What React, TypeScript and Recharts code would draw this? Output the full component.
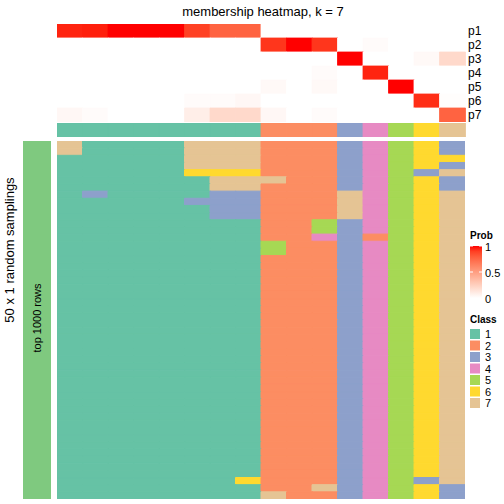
import React from 'react';
import { Bar, BarChart, Cell, XAxis, YAxis } from 'recharts';

// class colours (Set2-like, as in the legend)
const CLASS_COLORS: Record<string, string> = {
  '1': '#66C2A5',
  '2': '#FC8D62',
  '3': '#8DA0CB',
  '4': '#E78AC3',
  '5': '#A6D854',
  '6': '#FFD92F',
  '7': '#E5C494',
};
const CLASS_KEYS = ['1', '2', '3', '4', '5', '6', '7'];

// 16 samples (columns)
const columns = ['s1', 's2', 's3', 's4', 's5', 's6', 's7', 's8', 's9', 's10', 's11', 's12', 's13', 's14', 's15', 's16'];
const classes = ['1', '1', '1', '1', '1', '1', '1', '1', '2', '2', '2', '3', '4', '5', '6', '7'];

// membership probabilities per class row
const probNames = ['p1', 'p2', 'p3', 'p4', 'p5', 'p6', 'p7'];
const p1 = [0.96, 0.97, 1, 1, 1, 0.89, 0.77, 0.77, 0, 0, 0, 0, 0, 0, 0, 0];
const p2 = [0, 0, 0, 0, 0, 0, 0, 0, 0.92, 1, 0.92, 0, 0.02, 0, 0, 0];
const p3 = [0, 0, 0, 0, 0, 0, 0, 0, 0, 0, 0, 1, 0, 0, 0.03, 0.2];
const p4 = [0, 0, 0, 0, 0, 0, 0, 0, 0, 0, 0.02, 0, 0.96, 0, 0, 0];
const p5 = [0, 0, 0, 0, 0, 0, 0, 0, 0.03, 0, 0.03, 0, 0, 1, 0, 0];
const p6 = [0, 0, 0, 0, 0, 0.02, 0.02, 0.04, 0, 0, 0, 0, 0, 0, 0.94, 0.01];
const p7 = [0.04, 0.02, 0, 0, 0, 0.09, 0.2, 0.2, 0.04, 0, 0.02, 0, 0, 0, 0, 0.77];
const probs = [p1, p2, p3, p4, p5, p6, p7];

// 50 random samplings (rows), one class digit per sample column
const samplings = [
  '7111177722234563',
  '7111177722234563',
  '1111177722234566',
  '1111177722234563',
  '1111166622234537',
  '1111117772234563',
  '1111117722234563',
  '1311113322274567',
  '1111133322274567',
  '1111113322274567',
  '1111113322274567',
  '1111111122534567',
  '1111111122534567',
  '1111111122432567',
  '1111111152234567',
  '1111111152234567',
  '1111111122234567',
  '1111111122234567',
  '1111111122234567',
  '1111111122234567',
  '1111111122234567',
  '1111111122234567',
  '1111111122234567',
  '1111111122234567',
  '1111111122234567',
  '1111111122234567',
  '1111111122234567',
  '1111111122234567',
  '1111111122234567',
  '1111111122234567',
  '1111111122234567',
  '1111111122234567',
  '1111111122234567',
  '1111111122234567',
  '1111111122234567',
  '1111111122234567',
  '1111111122234567',
  '1111111122234567',
  '1111111122234567',
  '1111111122234567',
  '1111111122234567',
  '1111111122234567',
  '1111111122234567',
  '1111111122234567',
  '1111111122234567',
  '1111111122234567',
  '1111111122234567',
  '1111111622234537',
  '1111111122734563',
  '1111111172234563',
];

const FONT = '"Liberation Sans", Arial, Helvetica, sans-serif';

// white -> red ramp interpolated in LAB space
function labToHex(L: number, A: number, B: number) {
  const fy = (L + 16) / 116;
  const fx = fy + A / 500;
  const fz = fy - B / 200;
  const inv = (t: number) => (t ** 3 > 0.008856 ? t ** 3 : (t - 16 / 116) / 7.787);
  const X = 0.95047 * inv(fx);
  const Y = inv(fy);
  const Z = 1.08883 * inv(fz);
  const lin = [
    3.2406 * X - 1.5372 * Y - 0.4986 * Z,
    -0.9689 * X + 1.8758 * Y + 0.0415 * Z,
    0.0557 * X - 0.204 * Y + 1.057 * Z,
  ];
  return '#' + lin.map((c) => {
    const v = c <= 0.0031308 ? 12.92 * c : 1.055 * Math.pow(c, 1 / 2.4) - 0.055;
    return Math.round(Math.min(1, Math.max(0, v)) * 255).toString(16).padStart(2, '0');
  }).join('');
}
function probColor(p: number) {
  return labToHex(100 - 46.76 * p, 80.09 * p, 67.2 * p);
}

// each heatmap cell is one unit tall in a stack
const unitRow = (keys: string[]) => Object.fromEntries(keys.map((k) => [k, 1]));
const rowKeys = samplings.map((_, r) => `r${r}`);
const mainData = columns.map((c) => ({ col: c, ...unitRow(rowKeys) }));
const probData = columns.map((c) => ({ col: c, ...unitRow(probNames) }));
const classData = columns.map((c) => ({ col: c, Class: 1 }));

const HM_LEFT = 57;
const HM_W = 408;
const LABEL_W = 39;
const tickStyle = { fill: '#000', fontSize: 12, fontFamily: FONT };

export default function App() {
  const gradStops = [0, 0.1, 0.2, 0.3, 0.4, 0.5, 0.6, 0.7, 0.8, 0.9, 1];
  return (
    <div style={{ position: 'absolute', left: 0, top: 0, width: 504, height: 504, background: '#fff', fontFamily: FONT }}>
      {/* probability rows */}
      <div style={{ position: 'absolute', left: HM_LEFT, top: 24 }}>
        <BarChart width={HM_W + LABEL_W} height={98} data={probData} margin={{ top: 0, right: 0, bottom: 0, left: 0 }} barCategoryGap={0} barGap={0}>
          <XAxis dataKey="col" hide />
          <YAxis
            type="number" orientation="right" domain={[0, 7]} reversed width={LABEL_W}
            ticks={[0.5, 1.5, 2.5, 3.5, 4.5, 5.5, 6.5]} interval={0}
            tickFormatter={(v: number) => probNames[Math.floor(v)]}
            axisLine={false} tickLine={false} tickSize={1} tickMargin={2} tick={tickStyle}
          />
          {probNames.map((name, r) => (
            <Bar key={name} dataKey={name} stackId="p" isAnimationActive={false}>
              {probs[r].map((v, c) => (
                <Cell key={c} fill={probColor(v)} stroke={probColor(v)} strokeWidth={0.8} />
              ))}
            </Bar>
          ))}
        </BarChart>
      </div>

      {/* class annotation */}
      <div style={{ position: 'absolute', left: HM_LEFT, top: 123 }}>
        <BarChart width={HM_W + LABEL_W} height={14} data={classData} margin={{ top: 0, right: 0, bottom: 0, left: 0 }} barCategoryGap={0} barGap={0}>
          <XAxis dataKey="col" hide />
          <YAxis
            type="number" orientation="right" domain={[0, 1]} width={LABEL_W}
            ticks={[0.5]} tickFormatter={() => 'Class'}
            axisLine={false} tickLine={false} tickSize={1} tickMargin={2} tick={tickStyle}
          />
          <Bar dataKey="Class" isAnimationActive={false}>
            {classes.map((k, c) => (
              <Cell key={c} fill={CLASS_COLORS[k]} stroke={CLASS_COLORS[k]} strokeWidth={0.8} />
            ))}
          </Bar>
        </BarChart>
      </div>

      {/* main heatmap */}
      <div style={{ position: 'absolute', left: HM_LEFT, top: 141 }}>
        <BarChart width={HM_W} height={358} data={mainData} margin={{ top: 0, right: 0, bottom: 0, left: 0 }} barCategoryGap={0} barGap={0}>
          <XAxis dataKey="col" hide />
          <YAxis type="number" domain={[0, samplings.length]} reversed hide />
          {samplings.map((row, r) => (
            <Bar key={r} dataKey={rowKeys[r]} stackId="m" isAnimationActive={false}>
              {row.split('').map((k, c) => (
                <Cell key={c} fill={CLASS_COLORS[k]} stroke={CLASS_COLORS[k]} strokeWidth={1} />
              ))}
            </Bar>
          ))}
        </BarChart>
      </div>

      {/* titles, row annotation and legends */}
      <svg width={504} height={504} style={{ position: 'absolute', left: 0, top: 0, pointerEvents: 'none' }} fontFamily={FONT}>
        <defs>
          <linearGradient id="probGrad" x1="0" y1="1" x2="0" y2="0">
            {gradStops.map((t) => (
              <stop key={t} offset={t} stopColor={probColor(t)} />
            ))}
          </linearGradient>
        </defs>
        <text x={263} y={16} textAnchor="middle" fontSize={13} fill="#000">membership heatmap, k = 7</text>

        <text transform="translate(14,250) rotate(-90)" textAnchor="middle" fontSize={13} fill="#000">50 x 1 random samplings</text>
        <rect x={23} y={141} width={28} height={358} fill="#7FC97F" />
        <text transform="translate(41,318) rotate(-90)" textAnchor="middle" fontSize={11} fill="#000">top 1000 rows</text>

        <text x={470} y={239} fontSize={10} fontWeight="bold" fill="#000">Prob</text>
        <rect x={470} y={246} width={12} height={52} fill="url(#probGrad)" />
        {[246, 272].map((y) => (
          <g key={y}>
            <line x1={470} x2={473} y1={y} y2={y} stroke="#fff" strokeWidth={1} />
            <line x1={479} x2={482} y1={y} y2={y} stroke="#fff" strokeWidth={1} />
          </g>
        ))}
        <text x={485} y={251} fontSize={11} fill="#000">1</text>
        <text x={485} y={277} fontSize={11} fill="#000">0.5</text>
        <text x={485} y={303} fontSize={11} fill="#000">0</text>

        <text x={470} y={323} fontSize={10} fontWeight="bold" fill="#000">Class</text>
        {CLASS_KEYS.map((k, i) => (
          <g key={k}>
            <rect x={470} y={329 + i * 11.5} width={10} height={10} fill={CLASS_COLORS[k]} />
            <text x={485} y={338 + i * 11.5} fontSize={11} fill="#000">{k}</text>
          </g>
        ))}
      </svg>
    </div>
  );
}
